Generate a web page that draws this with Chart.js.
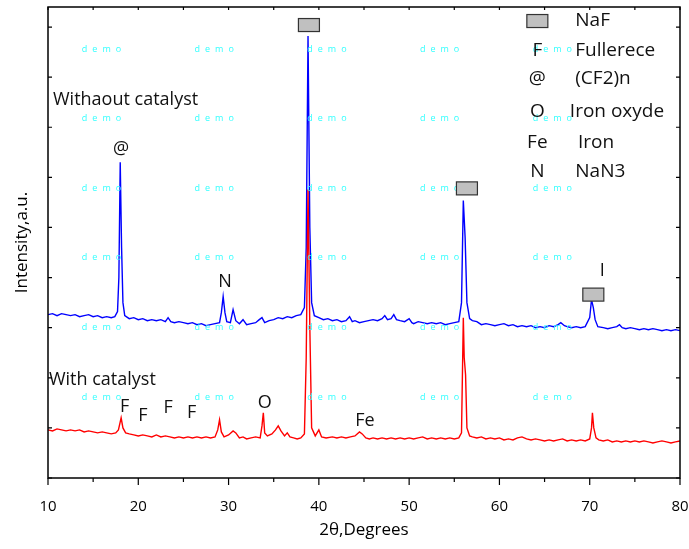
<!DOCTYPE html>
<html>
<head>
<meta charset="utf-8">
<script src="https://cdn.jsdelivr.net/npm/chart.js@4.4.1/dist/chart.umd.min.js"></script>
<style>
  html, body { margin: 0; padding: 0; background: #fff; }
  #wrap { width: 689px; height: 549px; }
</style>
</head>
<body>
<div id="wrap"><canvas id="xrd"></canvas></div>
<script>
// without catalyst (blue)
const blueAngle = [10,10.5,11,11.5,12,12.5,13,13.5,14,14.5,15,15.5,16,16.5,17,17.4,17.7,17.85,18,18.15,18.3,18.5,19,19.5,20,20.5,21,21.5,22,22.5,23,23.3,23.6,24,24.5,25,25.5,26,26.5,27,27.5,28,28.5,29,29.2,29.4,29.6,29.8,30.2,30.5,30.8,31.2,31.6,32,32.5,33,33.4,33.7,34,34.5,35,35.5,36,36.5,37,37.5,38,38.4,38.6,38.8,39,39.2,39.5,40,40.5,41,41.5,42,42.5,43,43.4,43.7,44,44.5,45,45.5,46,46.5,47,47.3,47.6,48,48.3,48.6,49,49.5,50,50.3,50.5,51,51.5,52,52.5,53,53.5,54,54.5,55,55.5,55.8,56,56.2,56.4,56.7,57,57.5,58,58.5,59,59.5,60,60.5,61,61.5,62,62.5,63,63.5,64,64.5,65,65.5,66,66.5,66.8,67.2,67.5,68,68.5,69,69.5,70,70.2,70.4,70.6,70.9,71.5,72,72.5,73,73.3,73.6,74,74.5,75,75.5,76,76.5,77,77.5,78,78.5,79,79.5,80];
const blueCounts = [163,164,162,164,163,162,163,161,162,163,161,162,160,161,160,161,166,200,315,230,175,162,159,160,158,159,157,158,157,158,156,160,156,155,156,155,154,155,153,154,152,153,154,155,165,181,165,156,155,168,157,154,158,153,154,155,158,160,155,157,158,160,159,161,160,162,163,170,230,441,250,175,162,160,158,159,157,158,156,157,161,156,157,155,156,157,158,157,159,162,158,159,163,158,157,156,159,155,154,156,155,154,155,154,155,153,154,155,156,175,277,240,175,159,157,156,153,154,153,152,153,154,152,153,151,152,151,152,150,151,150,152,151,153,155,152,151,150,151,150,151,160,178,170,158,151,150,149,150,151,153,150,149,150,149,148,149,148,149,148,147,148,147,148,147];

// with catalyst (red)
const redAngle = [10,10.5,11,11.5,12,12.5,13,13.5,14,14.5,15,15.5,16,16.5,17,17.5,17.8,18,18.1,18.3,18.6,19,19.5,20,20.5,21,21.5,22,22.5,23,23.5,24,24.5,25,25.5,26,26.5,27,27.5,28,28.5,28.8,29,29.2,29.5,30,30.5,30.8,31.2,31.6,32,32.5,33,33.5,33.7,33.85,34,34.3,34.8,35.2,35.5,35.8,36.2,36.5,36.8,37.2,37.6,38,38.4,38.6,38.8,39,39.2,39.6,40,40.3,40.8,41.5,42,42.5,43,43.5,44,44.5,44.8,45.2,45.6,46,46.5,47,47.5,48,48.5,49,49.5,50,50.5,51,51.5,52,52.5,53,53.5,54,54.5,55,55.5,55.8,56,56.1,56.25,56.4,56.7,57,57.5,58,58.5,59,59.5,60,60.5,61,61.5,62,62.5,63,63.5,64,64.5,65,65.5,66,66.5,67,67.5,68,68.5,69,69.5,70,70.2,70.3,70.45,70.7,71,71.5,72,72.5,73,73.5,74,74.5,75,75.5,76,76.5,77,77.5,78,78.5,79,79.5,80];
const redCounts = [48,47,49,48,47,48,47,48,46,47,46,45,46,45,44,45,48,56,60,50,45,44,43,42,43,42,41,43,41,42,41,40,41,40,41,40,41,40,41,40,41,48,58,46,41,43,47,45,40,41,39,40,41,40,52,65,45,42,44,48,52,47,42,45,41,40,39,40,44,120,288,150,50,42,48,41,40,41,40,41,40,41,42,46,44,40,39,40,39,40,39,40,39,40,39,40,39,40,41,39,40,39,40,39,40,39,40,45,160,120,103,50,42,41,40,41,39,40,39,40,38,39,38,40,41,39,38,39,38,37,38,37,38,39,37,38,37,38,37,39,50,65,50,40,38,37,38,36,37,36,37,36,37,36,37,36,35,36,37,36,35,36,37];

// peak marks
const markText = ['@', 'N', 'F', 'F', 'F', 'F', 'O', 'Fe', 'I'];
const markAngle = [18.1, 29.6, 18.5, 20.5, 23.3, 25.9, 34.0, 45.1, 71.4];
const markLevel = [328, 196, 71, 62, 70, 65, 75, 57, 207];

// NaF boxes over peaks
const boxAngle = [38.9, 56.4, 70.4];
const boxLevel = [452, 289, 183];

// sample names
const sampleText = ['Withaout catalyst', 'With catalyst'];
const sampleAngle = [10.55, 10.1];
const sampleLevel = [377, 98];

// key on the right
const keySymbol = ['', 'F', '@', 'O', 'Fe', 'N'];
const keyText = ['NaF', 'Fullerece', '(CF2)n', 'Iron oxyde', 'Iron', 'NaN3'];
const keyLevel = [456, 426, 399, 366, 335, 306];
const keySymbolAngle = 64.2;
const keyTextAngle = [68.4, 68.4, 68.4, 67.8, 68.7, 68.4];

const xTicks = [10, 20, 30, 40, 50, 60, 70, 80];

const zip = (a, b) => a.map((v, i) => ({x: v, y: b[i]}));

const drawBox = (ctx, cx, cy) => {
  ctx.fillStyle = '#c0c0c0';
  ctx.strokeStyle = '#333';
  ctx.lineWidth = 1.2;
  ctx.fillRect(cx - 10.5, cy - 6.5, 21, 13);
  ctx.strokeRect(cx - 10.5, cy - 6.5, 21, 13);
};

const extras = {
  id: 'extras',
  afterDatasetsDraw(chart) {
    const {ctx, chartArea: a, scales: {x, y}} = chart;
    ctx.save();

    // watermark
    ctx.fillStyle = '#33ffff';
    ctx.font = '9px "Open Sans"';
    ctx.letterSpacing = '5px';
    ctx.textAlign = 'center';
    ctx.textBaseline = 'middle';
    for (let r = 0; r < 6; r++) {
      for (let c = 0; c < 5; c++) {
        ctx.fillText('demo', a.left + 56 + c * 112.7, a.top + 42 + r * 69.6);
      }
    }
    ctx.letterSpacing = '0px';

    ctx.fillStyle = '#111';
    ctx.font = '18px "Open Sans"';
    markText.forEach((t, i) => {
      ctx.fillText(t, x.getPixelForValue(markAngle[i]), y.getPixelForValue(markLevel[i]));
    });

    boxAngle.forEach((v, i) => drawBox(ctx, x.getPixelForValue(v), y.getPixelForValue(boxLevel[i])));

    ctx.fillStyle = '#111';
    ctx.textAlign = 'left';
    ctx.font = '18px "Open Sans"';
    sampleText.forEach((t, i) => {
      ctx.fillText(t, x.getPixelForValue(sampleAngle[i]), y.getPixelForValue(sampleLevel[i]));
    });

    ctx.font = '19px "Open Sans"';
    keyText.forEach((t, i) => {
      const py = y.getPixelForValue(keyLevel[i]);
      const sx = x.getPixelForValue(keySymbolAngle);
      if (i === 0) {
        drawBox(ctx, sx, py);
        ctx.fillStyle = '#111';
      } else {
        ctx.textAlign = 'center';
        ctx.fillText(keySymbol[i], sx, py);
      }
      ctx.textAlign = 'left';
      ctx.fillText(t, x.getPixelForValue(keyTextAngle[i]), py);
    });

    // frame and ticks
    ctx.strokeStyle = '#000';
    ctx.lineWidth = 1.5;
    ctx.strokeRect(a.left, a.top, a.right - a.left, a.bottom - a.top);
    ctx.lineWidth = 1.2;
    ctx.beginPath();
    for (let v = 10; v <= 80; v += 5) {
      const px = x.getPixelForValue(v);
      const len = v % 10 === 0 ? 7 : 4;
      ctx.moveTo(px, a.bottom);
      ctx.lineTo(px, a.bottom + len);
      ctx.moveTo(px, a.top);
      ctx.lineTo(px, a.top + 3);
    }
    for (let v = 0; v <= 470; v += 50) {
      const py = y.getPixelForValue(v);
      ctx.moveTo(a.left, py);
      ctx.lineTo(a.left + 4, py);
      ctx.moveTo(a.right, py);
      ctx.lineTo(a.right - 4, py);
    }
    ctx.stroke();
    ctx.restore();
  }
};

new Chart(document.getElementById('xrd'), {
  type: 'line',
  data: {
    datasets: [
      {
        label: 'With catalyst',
        data: zip(redAngle, redCounts),
        borderColor: '#ff0000',
        borderWidth: 1.4,
        pointRadius: 0,
      },
      {
        label: 'Withaout catalyst',
        data: zip(blueAngle, blueCounts),
        borderColor: '#0000ff',
        borderWidth: 1.4,
        pointRadius: 0,
      },
    ]
  },
  options: {
    responsive: true,
    maintainAspectRatio: false,
    animation: false,
    layout: { padding: { top: 7, right: 9, left: 0, bottom: 0 } },
    plugins: { legend: { display: false }, tooltip: { enabled: false } },
    scales: {
      x: {
        type: 'linear',
        min: 10,
        max: 80,
        afterFit: s => { s.height = 71; s.paddingLeft = 0; s.paddingRight = 0; },
        afterBuildTicks: s => { s.ticks = xTicks.map(v => ({value: v})); },
        grid: { display: false },
        border: { display: false },
        ticks: { color: '#000', padding: 12, font: { family: 'Liberation Sans Narrow, Open Sans', size: 15 } },
        title: { display: true, text: '2θ,Degrees', color: '#000', padding: { top: 2, bottom: 9 }, font: { family: 'Open Sans', size: 17 } }
      },
      y: {
        min: 0,
        max: 470,
        afterFit: s => { s.width = 48; s.paddingTop = 0; s.paddingBottom = 0; },
        grid: { display: false },
        border: { display: false },
        ticks: { display: false },
        title: { display: true, text: 'Intensity,a.u.', color: '#000', padding: { top: 12, bottom: 0 }, font: { family: 'Open Sans', size: 17 } }
      }
    }
  },
  plugins: [extras]
});
</script>
</body>
</html>
